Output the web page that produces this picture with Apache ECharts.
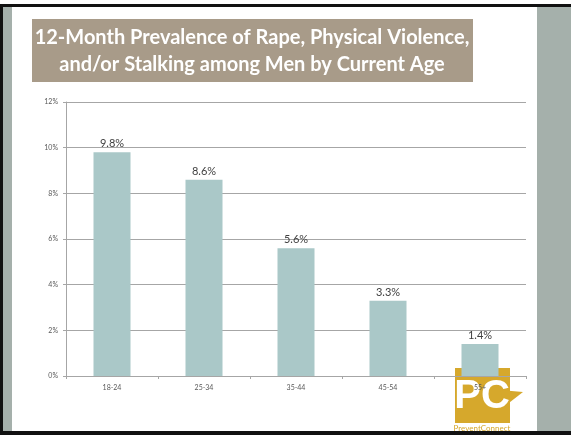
<!DOCTYPE html>
<html>
<head>
<meta charset="utf-8">
<script src="https://cdn.jsdelivr.net/npm/echarts@6/dist/echarts.min.js"></script>
<style>
  html, body { margin: 0; padding: 0; background: #ffffff; }
  #chart { width: 571px; height: 435px; }
</style>
</head>
<body>
<div id="chart"></div>
<script>
// Age groups and 12-month prevalence (%) among men
const ageGroups = ['18-24', '25-34', '35-44', '45-54', '55+'];
const prevalence = [9.8, 8.6, 5.6, 3.3, 1.4];
const yTicks = [0, 2, 4, 6, 8, 10, 12];
const titleLines = [
  '12-Month Prevalence of Rape, Physical Violence,',
  'and/or Stalking among Men by Current Age'
];

const chart = echarts.init(document.getElementById('chart'), null, { renderer: 'canvas' });

const font = 'Lato, "Liberation Sans", sans-serif';

const option = {
  backgroundColor: '#ffffff',
  animation: false,
  graphic: [
    // slide frame: black rules and grey side strips
    { type: 'rect', zlevel: 0, z: 0, shape: { x: 0, y: 4, width: 571, height: 3 }, style: { fill: '#111111' } },
    { type: 'rect', zlevel: 0, z: 0, shape: { x: 0, y: 4, width: 3, height: 431 }, style: { fill: '#111111' } },
    { type: 'rect', zlevel: 0, z: 0, shape: { x: 3, y: 7, width: 9, height: 424 }, style: { fill: '#a5b0ab' } },
    { type: 'rect', zlevel: 0, z: 0, shape: { x: 537, y: 7, width: 34, height: 424 }, style: { fill: '#a5b0ab' } },
    { type: 'rect', zlevel: 0, z: 0, shape: { x: 0, y: 431, width: 571, height: 4 }, style: { fill: '#111111' } },
    // title banner
    { type: 'rect', zlevel: 0, z: 0, shape: { x: 32, y: 19, width: 441, height: 63 }, style: { fill: '#a89b89' } },
    {
      type: 'text', zlevel: 0, z: 1, x: 252, y: 38,
      style: { text: titleLines[0], fill: '#ffffff', font: 'bold 20px ' + font, align: 'center', verticalAlign: 'middle' }
    },
    {
      type: 'text', zlevel: 0, z: 1, x: 252, y: 65,
      style: { text: titleLines[1], fill: '#ffffff', font: 'bold 20px ' + font, align: 'center', verticalAlign: 'middle' }
    },
    // PreventConnect logo (sits behind the plot)
    { type: 'rect', zlevel: 0, z: 0, shape: { x: 455, y: 368, width: 55, height: 55 }, style: { fill: '#d6a82c' } },
    { type: 'polygon', zlevel: 0, z: 0, shape: { points: [[500, 390], [523, 392], [505, 406]] }, style: { fill: '#d6a82c' } },
    {
      type: 'text', zlevel: 0, z: 1, x: 482, y: 397,
      style: { text: 'PC', fill: '#ffffff', font: 'bold 40px "Liberation Sans", sans-serif', align: 'center', verticalAlign: 'middle' }
    },
    {
      type: 'text', zlevel: 0, z: 1, x: 482, y: 428,
      style: { text: 'PreventConnect', fill: '#d6a82c', font: '8px ' + font, align: 'center', verticalAlign: 'middle' }
    }
  ],
  grid: {
    left: 66,
    right: 45,
    top: 102,
    bottom: 59,
    containLabel: false
  },
  xAxis: {
    type: 'category',
    zlevel: 1,
    data: ageGroups,
    axisLine: { show: true, lineStyle: { color: '#a6a6a6', width: 1 } },
    axisTick: { show: true, length: 3, lineStyle: { color: '#a6a6a6' } },
    axisLabel: { color: '#595959', fontSize: 7, fontFamily: font, margin: 8 }
  },
  yAxis: {
    type: 'value',
    zlevel: 1,
    min: yTicks[0],
    max: yTicks[yTicks.length - 1],
    interval: 2,
    axisLine: { show: true, lineStyle: { color: '#a6a6a6', width: 1 } },
    axisTick: { show: true, length: 3, lineStyle: { color: '#a6a6a6' } },
    axisLabel: {
      color: '#595959', fontSize: 7, fontFamily: font, margin: 8,
      formatter: v => v + '%'
    },
    splitLine: { show: true, lineStyle: { color: '#a6a6a6', width: 1 } }
  },
  series: [{
    type: 'bar',
    zlevel: 1,
    data: prevalence,
    barWidth: 37,
    itemStyle: { color: '#aac8c8' },
    label: {
      show: true,
      position: 'top',
      distance: 3,
      color: '#404040',
      fontSize: 11,
      fontFamily: font,
      formatter: p => p.value.toFixed(1) + '%'
    }
  }]
};

chart.setOption(option);
</script>
</body>
</html>
